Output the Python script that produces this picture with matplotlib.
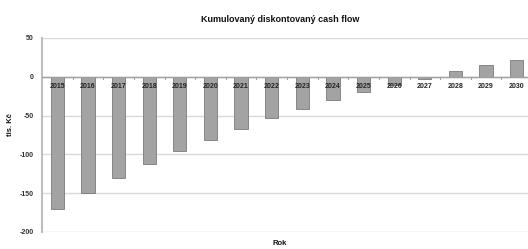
import matplotlib
matplotlib.use("Agg")
import matplotlib.pyplot as plt
import numpy as np

years = ["2015", "2016", "2017", "2018", "2019", "2020", "2021", "2022",
         "2023", "2024", "2025", "2026", "2027", "2028", "2029", "2030"]
values = [-170.5, -150, -130.5, -113, -96, -81, -67, -53,
          -41, -30.5, -20, -11, -2.5, 7.7, 14.6, 21.5]
yticks = [50, 0, -50, -100, -150, -200]

plt.rcParams['font.family'] = ['Liberation Sans', 'DejaVu Sans']
fig = plt.figure(figsize=(5.28, 2.49), dpi=100)
ax = fig.add_axes([42/528, 1-232/249, 490/528, (232-38)/249])

x = np.arange(len(years))
ax.bar(x, values, width=0.43, color='#a3a3a3', edgecolor='#7a7a7a', linewidth=0.6, zorder=3)

ax.set_xlim(-0.5, len(years) - 0.5)
ax.set_ylim(-200, 50)
ax.set_yticks(yticks)
ax.set_yticklabels([str(t) for t in yticks], fontsize=5, fontweight='bold', color='#333333')
ax.tick_params(axis='y', length=0, pad=6)
ax.grid(axis='y', color='#d9d9d9', linewidth=1.0, zorder=0)

for s in ['top', 'right', 'bottom']:
    ax.spines[s].set_visible(False)
ax.spines['left'].set_color('#bdbdbd')
ax.spines['left'].set_linewidth(1.5)

ax.axhline(0, color='#a0a0a0', linewidth=1.0, zorder=4)
ax.set_xticks(x)
ax.set_xticklabels([])
ax.tick_params(axis='x', length=0)
for xi in np.arange(0.5, len(years) - 0.5, 1.0):
    ax.plot([xi, xi], [0, -2.5], color='#a0a0a0', linewidth=0.8, zorder=4)
for xi, lab in zip(x, years):
    ax.text(xi, -13, lab, ha='center', va='center', fontsize=5, fontweight='bold', color='#222222', zorder=5)

fig.text(280/528, 1-20/249, "Kumulovaný diskontovaný cash flow", ha='center', va='center',
         fontsize=6.5, fontweight='bold', color='#111111')
fig.text(280/528, 1-243/249, "Rok", ha='center', va='center', fontsize=5.5, fontweight='bold', color='#111111')
fig.text(10/528, 1-125/249, "tis. Kč", ha='center', va='center', fontsize=5.5, fontweight='bold',
         rotation=90, color='#111111')

fig.savefig("out.png", dpi=100)
